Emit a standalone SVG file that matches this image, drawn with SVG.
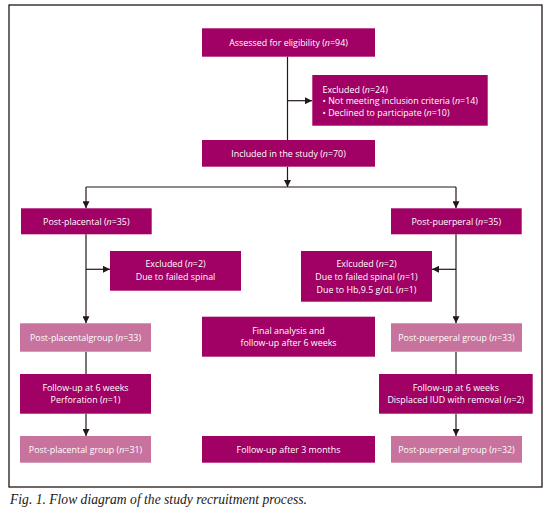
<svg xmlns="http://www.w3.org/2000/svg" width="550" height="513" viewBox="0 0 550 513">
<style>
.d{fill:#A10064}
.l{fill:#C7739E}
text{font-family:"Open Sans","Liberation Sans",sans-serif;font-size:8.9px;fill:#fff;text-anchor:middle}
.i{font-style:italic}
.lf{text-anchor:start}
.c{stroke:#231815;stroke-width:1.2;fill:none}
.cap{font-family:"Liberation Serif","DejaVu Serif",serif;font-style:italic;font-size:13.6px;fill:#231815;text-anchor:start}
</style>
<defs>
<marker id="ah" viewBox="0 0 10 10" refX="10" refY="5" markerWidth="7" markerHeight="7" markerUnits="userSpaceOnUse" orient="auto">
<path d="M0,0 L10,5 L0,10 Z" fill="#231815"/>
</marker>
</defs>
<rect x="9" y="5" width="533" height="482" fill="none" stroke="#231815" stroke-width="1.3"/>
<g id="connectors" class="c">
<line x1="287.5" y1="56.7" x2="287.5" y2="140"/>
<line x1="287.5" y1="100.7" x2="312" y2="100.7" marker-end="url(#ah)"/>
<line x1="287.5" y1="166.7" x2="287.5" y2="187" marker-end="url(#ah)"/>
<line x1="86" y1="187" x2="456" y2="187"/>
<line x1="86" y1="187" x2="86" y2="208.3" marker-end="url(#ah)"/>
<line x1="456" y1="187" x2="456" y2="208.3" marker-end="url(#ah)"/>
<line x1="86" y1="234.3" x2="86" y2="323.3" marker-end="url(#ah)"/>
<line x1="86" y1="269.3" x2="110" y2="269.3" marker-end="url(#ah)"/>
<line x1="456" y1="234.3" x2="456" y2="323.3" marker-end="url(#ah)"/>
<line x1="456" y1="269.3" x2="432" y2="269.3" marker-end="url(#ah)"/>
<line x1="86" y1="351.7" x2="86" y2="374"/>
<line x1="86" y1="413.7" x2="86" y2="436" marker-end="url(#ah)"/>
<line x1="456" y1="351.7" x2="456" y2="374"/>
<line x1="456" y1="413.7" x2="456" y2="436" marker-end="url(#ah)"/>
</g>
<g id="assessed"><rect class="d" x="202" y="28.3" width="173" height="28.4"/><text x="288.5" y="45.5">Assessed for eligibility (<tspan class="i">n</tspan>=94)</text></g>
<g id="excluded24"><rect class="d" x="312.3" y="75" width="175.4" height="50.7"/>
<text class="lf" x="322.5" y="92.5">Excluded (<tspan class="i">n</tspan>=24)</text>
<text class="lf" x="322.5" y="104.2">• Not meeting inclusion criteria (<tspan class="i">n</tspan>=14)</text>
<text class="lf" x="322.5" y="115.9">• Declined to participate (<tspan class="i">n</tspan>=10)</text></g>
<g id="included"><rect class="d" x="202" y="140" width="173" height="26.7"/><text x="288.5" y="156.7">Included in the study (<tspan class="i">n</tspan>=70)</text></g>
<g id="postplacental35"><rect class="d" x="21" y="208.3" width="130.7" height="26"/><text x="86.3" y="224.5">Post-placental (<tspan class="i">n</tspan>=35)</text></g>
<g id="postpuerperal35"><rect class="d" x="391" y="208.3" width="130.7" height="26"/><text x="456.3" y="224.5">Post-puerperal (<tspan class="i">n</tspan>=35)</text></g>
<g id="excludedLeft"><rect class="d" x="110" y="251" width="131" height="39.7"/>
<text x="175.5" y="267.2">Excluded (<tspan class="i">n</tspan>=2)</text>
<text x="175.5" y="279.9">Due to failed spinal</text></g>
<g id="excludedRight"><rect class="d" x="301" y="251" width="131" height="50.7"/>
<text x="366.5" y="267.2">Exlcuded (<tspan class="i">n</tspan>=2)</text>
<text x="366.5" y="279.9">Due to failed spinal (<tspan class="i">n</tspan>=1)</text>
<text x="366.5" y="292.5">Due to Hb,9.5 g/dL (<tspan class="i">n</tspan>=1)</text></g>
<g id="postplacental33"><rect class="l" x="20" y="323.3" width="131" height="28.4"/><text x="85.5" y="340.7">Post-placentalgroup (<tspan class="i">n</tspan>=33)</text></g>
<g id="finalanalysis"><rect class="d" x="202" y="316.7" width="173" height="40"/>
<text x="288.5" y="333.9">Final analysis and</text>
<text x="288.5" y="345.9">follow-up after 6 weeks</text></g>
<g id="postpuerperal33"><rect class="l" x="391" y="323.3" width="131" height="28.4"/><text x="456.5" y="340.7">Post-puerperal group (<tspan class="i">n</tspan>=33)</text></g>
<g id="followupLeft"><rect class="d" x="20" y="374" width="131" height="39.7"/>
<text x="85.5" y="390.9">Follow-up at 6 weeks</text>
<text x="85.5" y="403.2">Perforation (<tspan class="i">n</tspan>=1)</text></g>
<g id="followupRight"><rect class="d" x="379" y="374" width="153.7" height="39.7"/>
<text x="455.8" y="390.9">Follow-up at 6 weeks</text>
<text x="455.8" y="403.2">Displaced IUD with removal (<tspan class="i">n</tspan>=2)</text></g>
<g id="postplacental31"><rect class="l" x="20" y="436" width="131" height="26.7"/><text x="85.5" y="452.5">Post-placental group (<tspan class="i">n</tspan>=31)</text></g>
<g id="followup3m"><rect class="d" x="202" y="436" width="173" height="26.7"/><text x="288.5" y="452.5">Follow-up after 3 months</text></g>
<g id="postpuerperal32"><rect class="l" x="391" y="436" width="131" height="26.7"/><text x="456.5" y="452.5">Post-puerperal group (<tspan class="i">n</tspan>=32)</text></g>
<text class="cap" x="10" y="504">Fig. 1. Flow diagram of the study recruitment process.</text>
</svg>
